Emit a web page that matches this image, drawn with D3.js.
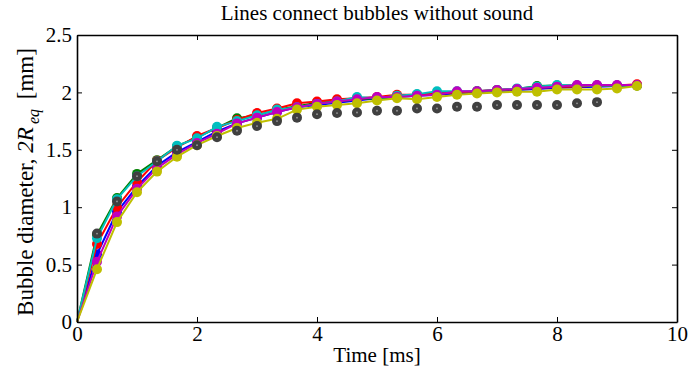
<!DOCTYPE html>
<html>
<head>
<meta charset="utf-8">
<script src="https://cdn.jsdelivr.net/npm/d3@7"></script>
<style>
  html, body { margin: 0; padding: 0; background: #fff; }
  svg text { font-family: "Liberation Serif", "Times New Roman", Times, serif; fill: #000; }
</style>
</head>
<body>
<svg id="chart" width="689" height="373"></svg>
<script>
// Sample times [ms]: frames every 1/3 ms
const times = d3.range(0, 29).map(k => k / 3);

// Bubble diameters 2R_eq [mm], one array per bubble
const blueSeries = [0, 0.59, 0.96, 1.18, 1.36, 1.48, 1.57, 1.66, 1.73, 1.78, 1.83, 1.87, 1.89, 1.91, 1.93, 1.95, 1.96, 1.97, 1.98, 1.99, 2.00, 2.01, 2.02, 2.03, 2.04, 2.045, 2.05, 2.055, 2.06];
const greenSeries = [0, 0.76, 1.08, 1.29, 1.41, 1.53, 1.61, 1.69, 1.775, 1.80, 1.85, 1.88, 1.91, 1.92, 1.94, 1.95, 1.96, 1.98, 1.99, 2.00, 2.01, 2.02, 2.03, 2.055, 2.06, 2.06, 2.06, 2.06, 2.06];
const redSeries = [0, 0.68, 1.00, 1.22, 1.405, 1.52, 1.62, 1.69, 1.76, 1.82, 1.86, 1.905, 1.92, 1.94, 1.95, 1.96, 1.98, 1.98, 1.99, 2.00, 2.01, 2.02, 2.03, 2.04, 2.05, 2.05, 2.06, 2.06, 2.07];
const cyanSeries = [0, 0.73, 1.07, 1.27, 1.40, 1.535, 1.60, 1.70, 1.75, 1.80, 1.85, 1.87, 1.90, 1.92, 1.96, 1.95, 1.97, 1.985, 2.01, 2.01, 2.01, 2.02, 2.035, 2.05, 2.065, 2.06, 2.06, 2.06, 2.06];
const magentaSeries = [0, 0.525, 0.92, 1.16, 1.34, 1.46, 1.56, 1.64, 1.73, 1.78, 1.83, 1.87, 1.90, 1.92, 1.94, 1.96, 1.96, 1.97, 1.98, 2.01, 2.01, 2.02, 2.03, 2.04, 2.05, 2.065, 2.065, 2.065, 2.065];
const yellowSeries = [0, 0.46, 0.87, 1.13, 1.31, 1.44, 1.54, 1.62, 1.69, 1.735, 1.77, 1.85, 1.875, 1.89, 1.905, 1.93, 1.95, 1.94, 1.96, 1.98, 1.99, 2.00, 2.005, 2.005, 2.025, 2.025, 2.025, 2.035, 2.055];
// Bubble with sound: markers only, no connecting line
const graySeries = [null, 0.77, 1.05, 1.27, 1.40, 1.50, 1.54, 1.61, 1.666, 1.707, 1.75, 1.78, 1.81, 1.82, 1.825, 1.84, 1.84, 1.86, 1.86, 1.875, 1.875, 1.89, 1.89, 1.89, 1.89, 1.905, 1.915];

const xTicks = [0, 2, 4, 6, 8, 10];
const yTicks = [0, 0.5, 1, 1.5, 2, 2.5];

const series = [
  { values: blueSeries, color: "#0000ff", line: true },
  { values: greenSeries, color: "#008000", line: true },
  { values: redSeries, color: "#ff0000", line: true },
  { values: cyanSeries, color: "#00bfbf", line: true },
  { values: magentaSeries, color: "#bf00bf", line: true },
  { values: yellowSeries, color: "#bfbf00", line: true },
  { values: graySeries, color: "#404040", line: false }
];

const svg = d3.select("#chart");
const margin = { left: 77, right: 12, top: 35, bottom: 51 };
const W = 689, H = 373;

const x = d3.scaleLinear().domain([0, 10]).range([margin.left, W - margin.right]);
const y = d3.scaleLinear().domain([0, 2.5]).range([H - margin.bottom, margin.top]);

// Data layers
const lineGen = d3.line()
  .defined(d => d[1] != null)
  .x(d => x(d[0]))
  .y(d => y(d[1]));

series.forEach(s => {
  const pts = s.values.map((v, i) => [times[i], v]);
  const g = svg.append("g");
  if (s.line) {
    g.append("path")
      .datum(pts)
      .attr("fill", "none")
      .attr("stroke", s.color)
      .attr("stroke-width", 2)
      .attr("stroke-linejoin", "round")
      .attr("d", lineGen);
  }
  const marks = pts.filter(d => d[1] != null && d[0] > 0);
  g.selectAll("circle.m")
    .data(marks)
    .join("circle")
    .attr("class", "m")
    .attr("cx", d => x(d[0]))
    .attr("cy", d => y(d[1]))
    .attr("r", 5)
    .attr("fill", s.color);
  if (!s.line) {
    g.selectAll("circle.c")
      .data(marks)
      .join("circle")
      .attr("class", "c")
      .attr("cx", d => x(d[0]))
      .attr("cy", d => y(d[1]))
      .attr("r", 0.9)
      .attr("fill", "#9a9a9a");
  }
});

// Axes box with inward ticks on all four sides
const axisColor = "#000";
const axBottom = d3.axisBottom(x).tickValues(xTicks).tickSizeInner(-5).tickSizeOuter(0).tickPadding(4).tickFormat(d3.format("d"));
const axTop = d3.axisTop(x).tickValues(xTicks).tickSizeInner(-5).tickSizeOuter(0).tickFormat("");
const axLeft = d3.axisLeft(y).tickValues(yTicks).tickSizeInner(-5).tickSizeOuter(0).tickPadding(5).tickFormat(d => String(d));
const axRight = d3.axisRight(y).tickValues(yTicks).tickSizeInner(-5).tickSizeOuter(0).tickFormat("");

function styleAxis(g) {
  g.select(".domain").attr("stroke", axisColor).attr("stroke-width", 1.6);
  g.selectAll(".tick line").attr("stroke", axisColor).attr("stroke-width", 1);
  g.selectAll(".tick text").attr("font-size", 21).attr("fill", "#000");
}

svg.append("g").attr("transform", `translate(0,${y(0)})`).call(axBottom).call(styleAxis);
svg.append("g").attr("transform", `translate(0,${y(2.5)})`).call(axTop).call(styleAxis);
svg.append("g").attr("transform", `translate(${x(0)},0)`).call(axLeft).call(styleAxis);
svg.append("g").attr("transform", `translate(${x(10)},0)`).call(axRight).call(styleAxis);

// Title
svg.append("text")
  .attr("x", (x(0) + x(10)) / 2)
  .attr("y", 20)
  .attr("text-anchor", "middle")
  .attr("font-size", 21)
  .text("Lines connect bubbles without sound");

// X label
svg.append("text")
  .attr("x", (x(0) + x(10)) / 2)
  .attr("y", 362)
  .attr("text-anchor", "middle")
  .attr("font-size", 21)
  .text("Time [ms]");

// Y label with italic 2R and subscript eq
const yl = svg.append("text")
  .attr("transform", `translate(33,182) rotate(-90)`)
  .attr("text-anchor", "middle")
  .attr("font-size", 23);
yl.append("tspan").text("Bubble diameter, ");
yl.append("tspan").attr("font-style", "italic").text("2R");
yl.append("tspan").attr("font-style", "italic").attr("font-size", 16).attr("dx", 3).attr("dy", 6).text("eq");
yl.append("tspan").attr("dy", -6).attr("dx", 4).text(" [mm]");
</script>
</body>
</html>
